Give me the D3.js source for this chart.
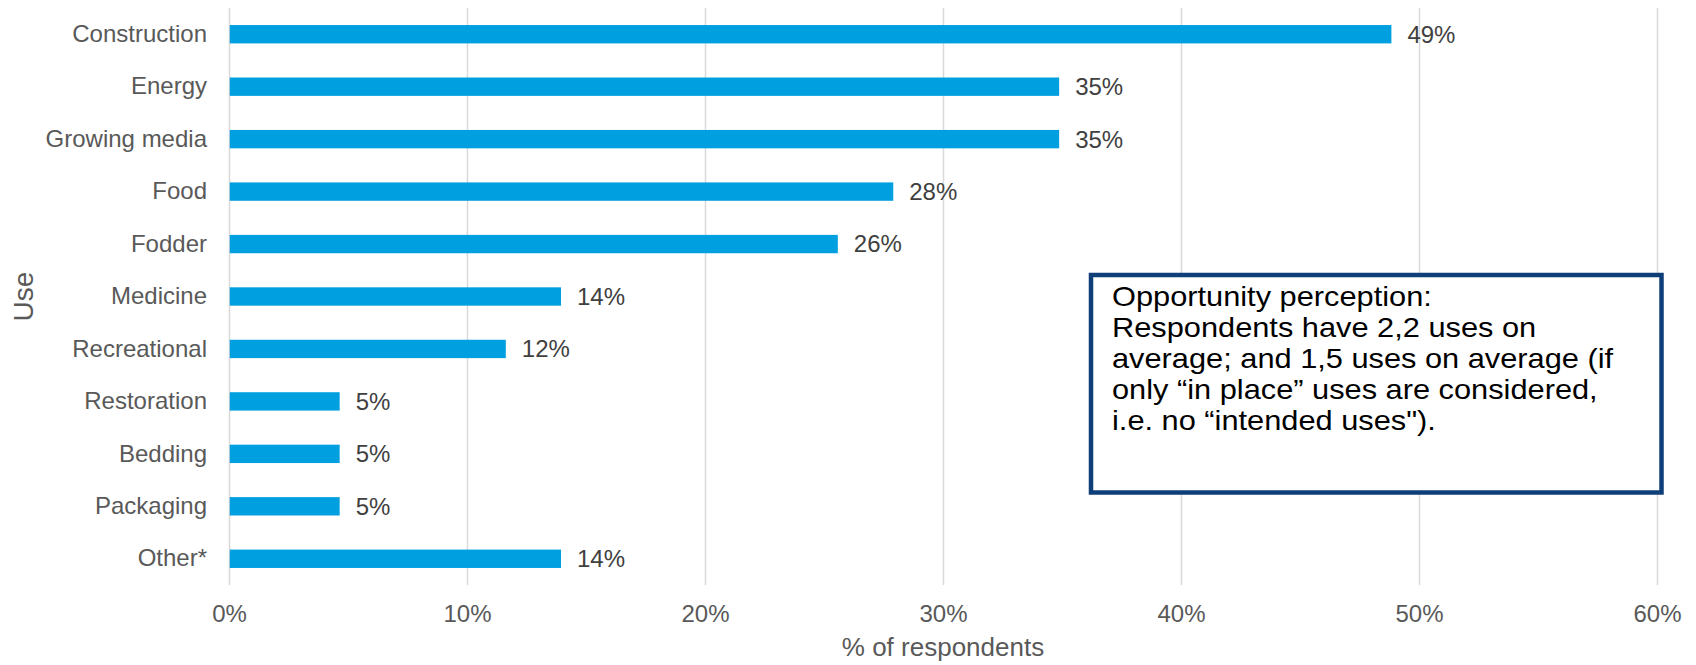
<!DOCTYPE html>
<html>
<head>
<meta charset="utf-8">
<script src="https://cdn.jsdelivr.net/npm/d3@7"></script>
<style>
  html, body { margin: 0; padding: 0; background: #ffffff; }
  svg { display: block; font-family: "Liberation Sans", Arial, sans-serif; }
</style>
</head>
<body>
<svg id="chart" width="1696" height="665"></svg>
<script>
// Uses of the material, share of respondents (n = 43)
const categories = ["Construction", "Energy", "Growing media", "Food", "Fodder", "Medicine",
                    "Recreational", "Restoration", "Bedding", "Packaging", "Other*"];
const shares = [0.4884, 0.3488, 0.3488, 0.2791, 0.2558, 0.1395, 0.1163, 0.0465, 0.0465, 0.0465, 0.1395];
const xTicks = [0, 0.1, 0.2, 0.3, 0.4, 0.5, 0.6];
const xTitle = "% of respondents";
const yTitle = "Use";
const noteLines = [
  "Opportunity perception:",
  "Respondents have 2,2 uses on",
  "average; and 1,5 uses on average (if",
  "only \u201Cin place\u201D uses are considered,",
  "i.e. no \u201Cintended uses\")."
];

const W = 1696, H = 665;
const margin = { top: 8, right: 39, bottom: 80, left: 229 };
const innerW = W - margin.left - margin.right;
const innerH = H - margin.top - margin.bottom;

const svg = d3.select("#chart");
const g = svg.append("g").attr("transform", `translate(${margin.left},${margin.top})`);

const x = d3.scaleLinear().domain([0, 0.6]).range([0, innerW]);
const y = d3.scaleBand().domain(categories).range([0, innerH]).paddingInner(0.65).paddingOuter(0.325);

// vertical gridlines + tick labels
const xAxis = g.append("g")
  .attr("transform", `translate(0,${innerH})`)
  .call(d3.axisBottom(x).tickValues(xTicks).tickFormat(d3.format(".0%")).tickSize(-innerH).tickPadding(20));
xAxis.select(".domain").remove();
xAxis.selectAll(".tick line").attr("stroke", "#d9d9d9").attr("stroke-width", 1.5);
xAxis.selectAll(".tick text").attr("fill", "#595959").style("font-size", "24px");

// category labels
const yAxis = g.append("g")
  .call(d3.axisLeft(y).tickSize(0).tickPadding(22));
yAxis.select(".domain").remove();
yAxis.selectAll(".tick text").attr("fill", "#595959").style("font-size", "24px");

// bars
g.append("g").selectAll("rect")
  .data(categories)
  .join("rect")
  .attr("x", x(0) + 0.75)
  .attr("y", d => y(d))
  .attr("width", (d, i) => x(shares[i]) - x(0) - 0.75)
  .attr("height", y.bandwidth())
  .attr("fill", "#009fdf");

// value labels
g.append("g").selectAll("text")
  .data(categories)
  .join("text")
  .attr("x", (d, i) => x(shares[i]) + 16)
  .attr("y", d => y(d) + y.bandwidth() / 2)
  .attr("dy", "0.35em")
  .attr("fill", "#404040")
  .style("font-size", "24px")
  .text((d, i) => d3.format(".0%")(shares[i]));

// axis titles
svg.append("text")
  .attr("x", margin.left + innerW / 2)
  .attr("y", 656)
  .attr("text-anchor", "middle")
  .attr("fill", "#595959")
  .style("font-size", "26px")
  .text(xTitle);

svg.append("text")
  .attr("transform", `translate(33,${margin.top + innerH / 2}) rotate(-90)`)
  .attr("text-anchor", "middle")
  .attr("fill", "#595959")
  .style("font-size", "28px")
  .text(yTitle);

// annotation box
const note = svg.append("g");
note.append("rect")
  .attr("x", 1091).attr("y", 275)
  .attr("width", 570.5).attr("height", 217.5)
  .attr("fill", "#ffffff")
  .attr("stroke", "#0f3f78")
  .attr("stroke-width", 4.5);
// tightly set lines, slightly widened type
note.append("text")
  .attr("transform", "translate(1112,0) scale(1.14,1)")
  .attr("fill", "#000000")
  .style("font-size", "27px")
  .selectAll("tspan")
  .data(noteLines)
  .join("tspan")
  .attr("x", 0)
  .attr("y", (d, i) => 306.5 + i * 31)
  .text(d => d);
</script>
</body>
</html>
